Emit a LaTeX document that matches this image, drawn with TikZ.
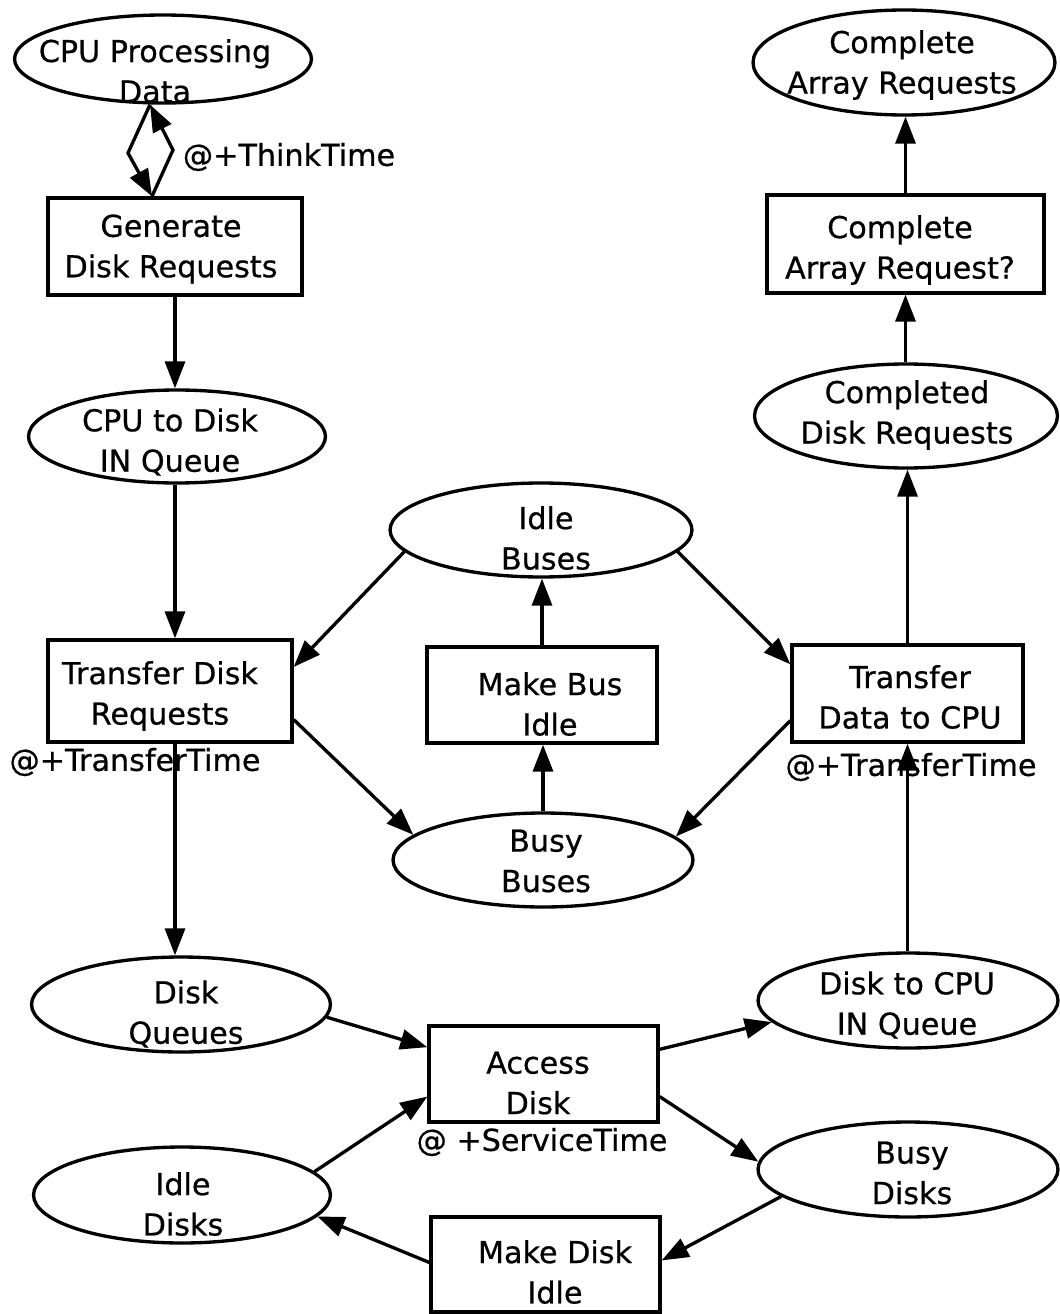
\documentclass[tikz,border=0pt]{standalone}
\usepackage{fontspec}
\setmainfont{DejaVu Sans}[FakeBold=0.6]
\usetikzlibrary{shapes.geometric,arrows.meta,calc}
\tikzset{
  place/.style={draw, ellipse, line width=1.9pt, inner sep=0pt},
  trans/.style={draw, rectangle, line width=1.9pt, inner sep=0pt},
  txt/.style={align=center, inner sep=0pt, font=\fontsize{17.2}{23}\selectfont},
  flow/.style={line width=1.9pt, -{Triangle[length=0.54cm,width=0.40cm]}},
}
\begin{document}
\begin{tikzpicture}[x=0.02cm, y=-0.02cm]
\path[use as bounding box, fill=white] (0,0) rectangle (1059,1314);

% places (ellipses) and transitions (boxes)
\node[place, minimum width=5.94cm, minimum height=1.76cm] (cpu)   at (163,59)     {};
\node[trans, minimum width=5.08cm, minimum height=1.94cm] (gen)   at (175,246.5)  {};
\node[place, minimum width=5.94cm, minimum height=1.86cm] (cpuq)  at (177,436.5)  {};
\node[trans, minimum width=4.88cm, minimum height=2.04cm] (tdr)   at (170,691)    {};
\node[place, minimum width=5.98cm, minimum height=1.90cm] (dq)    at (181,1004.5) {};
\node[place, minimum width=5.94cm, minimum height=1.92cm] (idisk) at (182,1195)   {};
\node[trans, minimum width=4.58cm, minimum height=1.92cm] (acc)   at (543.5,1074) {};
\node[trans, minimum width=4.58cm, minimum height=1.90cm] (mdi)   at (545.5,1264.5) {};
\node[place, minimum width=6.04cm, minimum height=1.88cm] (ibus)  at (541,530)    {};
\node[trans, minimum width=4.60cm, minimum height=1.92cm] (mbi)   at (542,695)    {};
\node[place, minimum width=6.00cm, minimum height=1.88cm] (bbus)  at (543,860)    {};
\node[trans, minimum width=4.62cm, minimum height=1.94cm] (tdc)   at (907.5,693.5) {};
\node[place, minimum width=6.00cm, minimum height=1.90cm] (dcq)   at (908,1000.5) {};
\node[place, minimum width=6.00cm, minimum height=1.90cm] (bdisk) at (908,1169.5) {};
\node[place, minimum width=6.06cm, minimum height=2.08cm] (cdr)   at (906,416)    {};
\node[trans, minimum width=5.54cm, minimum height=1.96cm] (car)   at (905.5,244)  {};
\node[place, minimum width=6.04cm, minimum height=2.10cm] (cars)  at (904,62.5)   {};

% texts
\node[txt] (cpu-t)   at (155,71)   {CPU Processing\\Data};
\node[txt] (gen-t)   at (171,249)  {Generate\\Disk Requests};
\node[txt] (cpuq-t)  at (170,442)  {CPU to Disk\\IN Queue};
\node[txt] (tdr-t)   at (160,696)  {Transfer Disk\\Requests};
\node[txt] (dq-t)    at (186,1014) {Disk\\Queues};
\node[txt] (idisk-t) at (183,1204) {Idle\\Disks};
\node[txt] (acc-t)   at (538,1083) {Access\\Disk};
\node[txt] (mdi-t)   at (555,1272) {Make Disk\\Idle};
\node[txt] (ibus-t)  at (546,538)  {Idle\\Buses};
\node[txt] (mbi-t)   at (550,704)  {Make Bus\\Idle};
\node[txt] (bbus-t)  at (546,861)  {Busy\\Buses};
\node[txt] (tdc-t)   at (910,697)  {Transfer\\Data to CPU};
\node[txt] (dcq-t)   at (907,1005) {Disk to CPU\\IN Queue};
\node[txt] (bdisk-t) at (912,1173) {Busy\\Disks};
\node[txt] (cdr-t)   at (907,415)  {Completed\\Disk Requests};
\node[txt] (car-t)   at (900,250)  {Complete\\Array Request?};
\node[txt] (cars-t)  at (902,65)   {Complete\\Array Requests};

% timing annotations
\node[txt] (think-l)  at (289,157)  {@+ThinkTime};
\node[txt] (xfer-l1)  at (135,762)  {@+TransferTime};
\node[txt] (xfer-l2)  at (911,767)  {@+TransferTime};
\node[txt] (serv-l)   at (542,1142) {@ +ServiceTime};

% think-time loop between CPU and request generation
\coordinate (thinkT) at ($(cpu.south)+(-13,0)$);
\coordinate (thinkB) at ($(gen.north)+(-23,0)$);
\coordinate (thinkL) at (128,153);
\coordinate (thinkR) at (173,150);
\draw[flow] (thinkT) -- (thinkL) -- (thinkB);
\draw[flow] (thinkB) -- (thinkR) -- (thinkT);

% request path (left column)
\draw[flow] (gen.south) -- (gen.south |- cpuq.north);
\draw[flow] (gen.south |- cpuq.south) -- (gen.south |- tdr.north);
\draw[flow] (gen.south |- tdr.south) -- (gen.south |- dq.north);

% disk access
\draw[flow] (dq.-5.5) -- (acc.167.2);
\draw[flow] (idisk.10.5) -- (acc.191.8);
\draw[flow] (mdi.179) -- (idisk.-9.3);
\draw[flow] (acc.12.8) -- (dcq.189.3);
\draw[flow] (acc.-11.8) -- (bdisk.177.4);
\draw[flow] (bdisk.192.8) -- (mdi.2.3);

% buses
\draw[flow] (ibus.189.5) -- (tdr.11.1);
\draw[flow] (tdr.-13.4) -- (bbus.169.9);
\draw[flow] (ibus.-9.1) -- (tdc.166.1);
\draw[flow] (tdc.193.6) -- (bbus.10.5);
\draw[flow] (mbi.north) -- (mbi.north |- ibus.south);
\draw[flow] (bbus.north) -- (bbus.north |- mbi.south);

% completion path (right column)
\draw[flow] (tdc.south |- dcq.north) -- (tdc.south);
\draw[flow] (tdc.north) -- (tdc.north |- cdr.south);
\draw[flow] (car.north |- cdr.north) -- (car.south);
\draw[flow] (car.north) -- (car.north |- cars.south);
\end{tikzpicture}
\end{document}
